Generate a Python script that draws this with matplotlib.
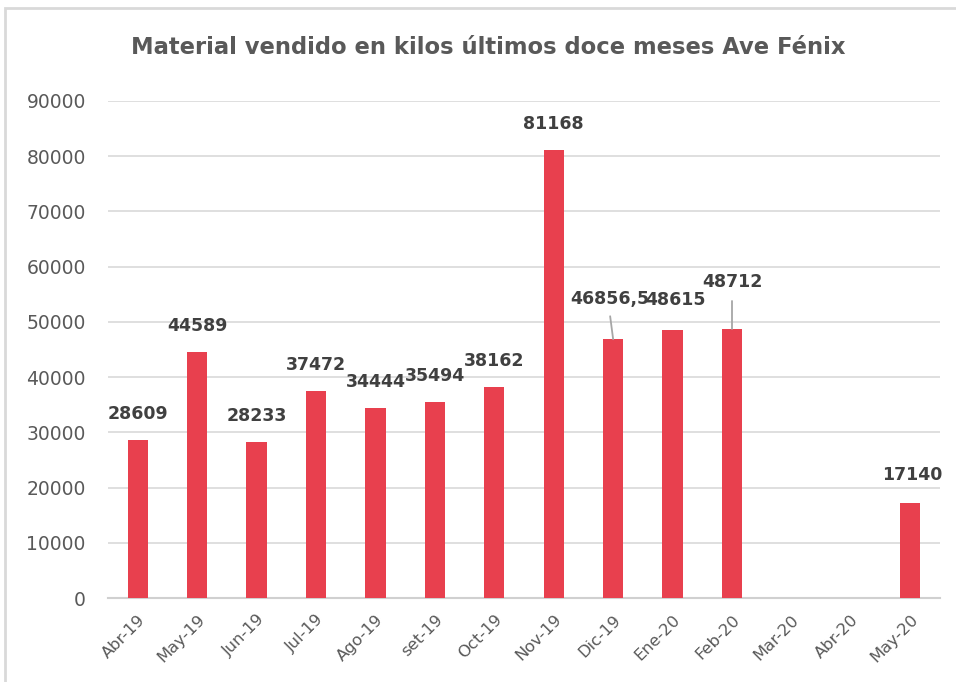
import numpy as np
import matplotlib.pyplot as plt
from matplotlib.patches import Rectangle

# Material vendido por mes (kilos)
meses = ['Abr-19', 'May-19', 'Jun-19', 'Jul-19', 'Ago-19', 'set-19', 'Oct-19',
         'Nov-19', 'Dic-19', 'Ene-20', 'Feb-20', 'Mar-20', 'Abr-20', 'May-20']
kilos = [28609, 44589, 28233, 37472, 34444, 35494, 38162,
         81168, 46856.5, 48615, 48712, 0, 0, 17140]
etiquetas = ['28609', '44589', '28233', '37472', '34444', '35494', '38162',
             '81168', '46856,5', '48615', '48712', '', '', '17140']
yticks = np.arange(0, 90001, 10000)

grey = '#595959'
rojo = '#E8404E'

fig = plt.figure(figsize=(9.56, 6.82), dpi=100)
fig.patches.append(Rectangle((5/956, -0.1), 1.2, 1 - 8/682 + 0.1, transform=fig.transFigure,
                             fill=False, edgecolor='#D9D9D9', linewidth=2))
ax = fig.add_axes([108/956, 1 - 598/682, 832/956, 497/682])

x = np.arange(len(meses))
ax.bar(x, kilos, width=0.34, color=rojo, zorder=3)

ax.set_xlim(-0.5, len(meses) - 0.5)
ax.set_ylim(0, 90000)
ax.set_yticks(yticks)
ax.set_yticklabels([str(v) for v in yticks], fontsize=13.5, color=grey)
ax.set_xticks(x)
ax.set_xticklabels(meses, rotation=45, ha='right', rotation_mode='anchor',
                   fontsize=11.8, color=grey)
ax.tick_params(axis='y', length=0, pad=16)
ax.tick_params(axis='x', length=0, pad=10)
ax.grid(axis='y', color='#D9D9D9', linewidth=1.2, zorder=0)
for s in ['top', 'right', 'left']:
    ax.spines[s].set_visible(False)
ax.spines['bottom'].set_color('#D0D0D0')
ax.spines['bottom'].set_linewidth(1.5)

# desplazamiento de las etiquetas en px (dx, dy) sobre la barra
desp = {8: (-3, 40), 9: (3, 30), 10: (0, 47), 13: (2, 28)}
for i, (v, t) in enumerate(zip(kilos, etiquetas)):
    if not t:
        continue
    dx, dy = desp.get(i, (0, 26))
    ax.annotate(t, (x[i], v), xytext=(dx, dy), textcoords='offset pixels',
                ha='center', va='center', fontsize=12.5,
                fontweight='bold', color='#404040', zorder=5)

# lineas guia
guias = {8: (-3, 23), 10: (0, 28)}
for i, (gx, gy) in guias.items():
    ax.annotate('', (x[i], kilos[i]), xytext=(gx, gy), textcoords='offset pixels',
                arrowprops=dict(arrowstyle='-', color='#A6A6A6', lw=1.3,
                                shrinkA=0, shrinkB=0))

fig.text(488/956, 1 - 47/682, 'Material vendido en kilos últimos doce meses Ave Fénix',
         ha='center', va='center', fontsize=16.3, fontweight='bold', color=grey)

fig.savefig('out.png', dpi=100)
